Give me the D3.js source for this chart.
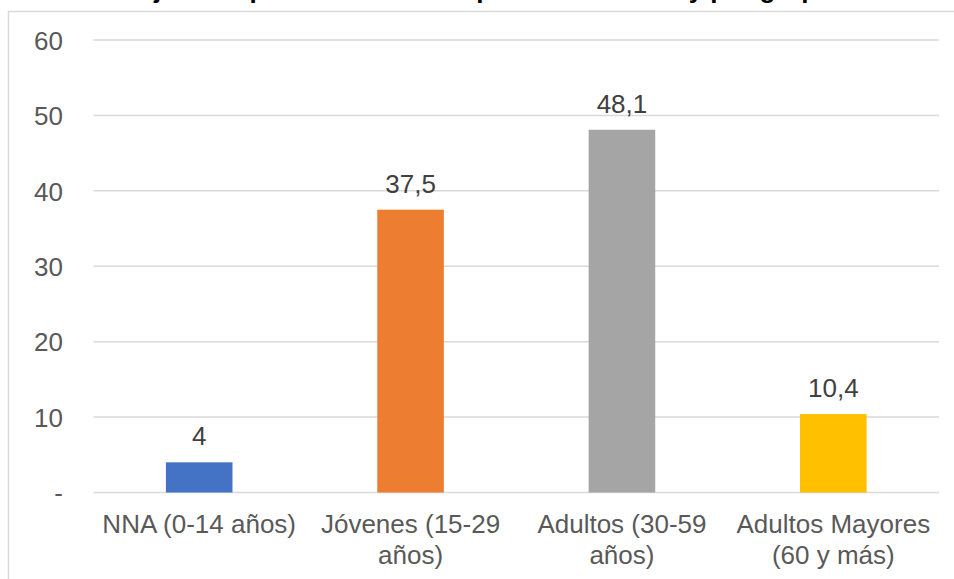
<!DOCTYPE html>
<html lang="es">
<head>
<meta charset="utf-8">
<script src="https://cdn.jsdelivr.net/npm/d3@7"></script>
<style>
  html, body { margin: 0; padding: 0; background: #ffffff; overflow: hidden; }
  svg { display: block; font-family: "Liberation Sans", Arial, sans-serif; }
</style>
</head>
<body>
<svg id="chart" width="954" height="579"></svg>
<script>
// Porcentaje por grupo de edad (ciclo de vida)
const title = "Porcentaje de la población víctima por ciclo de vida y por grupo etario";
const categories = ["NNA (0-14 años)", "Jóvenes (15-29 años)", "Adultos (30-59 años)", "Adultos Mayores (60 y más)"];
const categoryLines = [
  ["NNA (0-14 años)"],
  ["Jóvenes (15-29", "años)"],
  ["Adultos (30-59", "años)"],
  ["Adultos Mayores", "(60 y más)"]
];
const values = [4, 37.5, 48.1, 10.4];
const valueLabels = ["4", "37,5", "48,1", "10,4"];
const colors = ["#4472C4", "#ED7D31", "#A5A5A5", "#FFC000"];
const yTicks = [0, 10, 20, 30, 40, 50, 60];
const yTickLabels = ["-", "10", "20", "30", "40", "50", "60"];

const svg = d3.select("#chart");

// chart frame (continues past the right and bottom edges)
svg.append("rect")
  .attr("x", 8.5).attr("y", 11.5)
  .attr("width", 1000).attr("height", 600)
  .attr("fill", "#ffffff")
  .attr("stroke", "#d9d9d9").attr("stroke-width", 1.5);

// title, sitting above the frame
svg.append("text")
  .attr("x", 477).attr("y", -2)
  .attr("text-anchor", "middle")
  .attr("font-size", 26).attr("font-weight", "bold")
  .attr("fill", "#000000")
  .text(title);

const plot = { left: 93.5, right: 939, top: 40, bottom: 492.5 };

const x = d3.scaleBand()
  .domain(categories)
  .range([plot.left, plot.right])
  .paddingInner(0.685)
  .paddingOuter(0.3425);

const y = d3.scaleLinear()
  .domain([0, 60])
  .range([plot.bottom, plot.top]);

// horizontal gridlines
svg.append("g")
  .selectAll("line")
  .data(yTicks)
  .join("line")
  .attr("x1", plot.left).attr("x2", plot.right)
  .attr("y1", d => y(d)).attr("y2", d => y(d))
  .attr("stroke", "#d9d9d9").attr("stroke-width", 1.5);

// y axis labels
const yAxis = d3.axisLeft(y)
  .tickValues(yTicks)
  .tickFormat((d, i) => yTickLabels[i])
  .tickSize(0)
  .tickPadding(0);

const gy = svg.append("g")
  .attr("transform", "translate(63,0)")
  .call(yAxis);
gy.select(".domain").remove();
gy.selectAll("text")
  .attr("font-size", 26)
  .attr("font-family", "Liberation Sans, Arial, sans-serif")
  .attr("fill", "#595959")
  .attr("dy", "0.358em");

// bars
svg.append("g")
  .selectAll("rect")
  .data(values)
  .join("rect")
  .attr("x", (d, i) => x(categories[i]))
  .attr("width", x.bandwidth())
  .attr("y", d => y(d))
  .attr("height", d => y(0) - y(d))
  .attr("fill", (d, i) => colors[i]);

// value labels
svg.append("g")
  .selectAll("text")
  .data(values)
  .join("text")
  .attr("x", (d, i) => x(categories[i]) + x.bandwidth() / 2)
  .attr("y", d => y(d) - 17)
  .attr("text-anchor", "middle")
  .attr("font-size", 26)
  .attr("fill", "#404040")
  .text((d, i) => valueLabels[i]);

// category labels (wrapped)
const xl = svg.append("g")
  .selectAll("text")
  .data(categories)
  .join("text")
  .attr("x", d => x(d) + x.bandwidth() / 2)
  .attr("y", 532.5)
  .attr("text-anchor", "middle")
  .attr("font-size", 26)
  .attr("fill", "#595959");

xl.each(function(d, i) {
  const t = d3.select(this);
  categoryLines[i].forEach((line, j) => {
    t.append("tspan")
      .attr("x", x(d) + x.bandwidth() / 2)
      .attr("dy", j === 0 ? 0 : 31.5)
      .text(line);
  });
});
</script>
</body>
</html>
